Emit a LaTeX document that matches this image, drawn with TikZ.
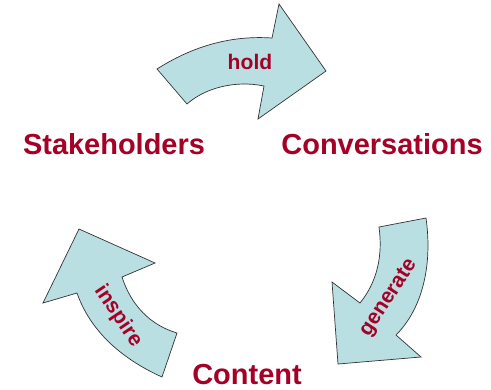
\documentclass[tikz,border=0pt]{standalone}
\usepackage{fontspec}
\setmainfont{Liberation Sans}
\usetikzlibrary{positioning}
\definecolor{wine}{RGB}{165,0,38}
\definecolor{pale}{RGB}{186,223,227}

\begin{document}
\begin{tikzpicture}[x=0.025cm, y=-0.025cm,
			word/.style={text=wine, font=\fontsize{20.6}{22}\selectfont\bfseries, inner sep=0pt, anchor=base},
			tag/.style={text=wine, font=\fontsize{15}{16}\selectfont\bfseries, inner sep=0pt},
			bendarrow/.style={draw=black!80, fill=pale, line width=0.5pt, line join=miter}
		]
			\useasboundingbox (0,0) rectangle (491,389);

			% Arrows
			\draw[bendarrow] (157,69) .. controls (190,48) and (228,35) .. (272,38)
				-- (279,4) -- (326,71) -- (258,119) -- (264,86)
				.. controls (235,80) and (205,88) .. (187,104) -- cycle;
			\draw[bendarrow] (379,227) -- (426,218)
				.. controls (433,268) and (421,310) .. (396,335)
				-- (421,357) -- (338,364) -- (332,282) -- (360,303)
				.. controls (377,282) and (383,256) .. (379,227) -- cycle;
			\draw[bendarrow] (79,229) -- (155,263) -- (122,277)
				.. controls (131,305) and (150,325) .. (177,333)
				-- (162,377)
				.. controls (120,358) and (90,330) .. (77,293)
				-- (43,303) -- cycle;

			% Labels
			\node[word] (stakeholders) at (114,154) {Stakeholders};
			\node[word] (conversations) at (382,154) {Conversations};
			\node[word] (content) at (247,384) {Content};
			\node[tag, anchor=base] (hold) at (250,69) {hold};
			\node[tag, rotate=57] (generate) at (389,298) {generate};
			\node[tag, rotate=-56] (inspire) at (118,316) {inspire};
		\end{tikzpicture}
\end{document}
